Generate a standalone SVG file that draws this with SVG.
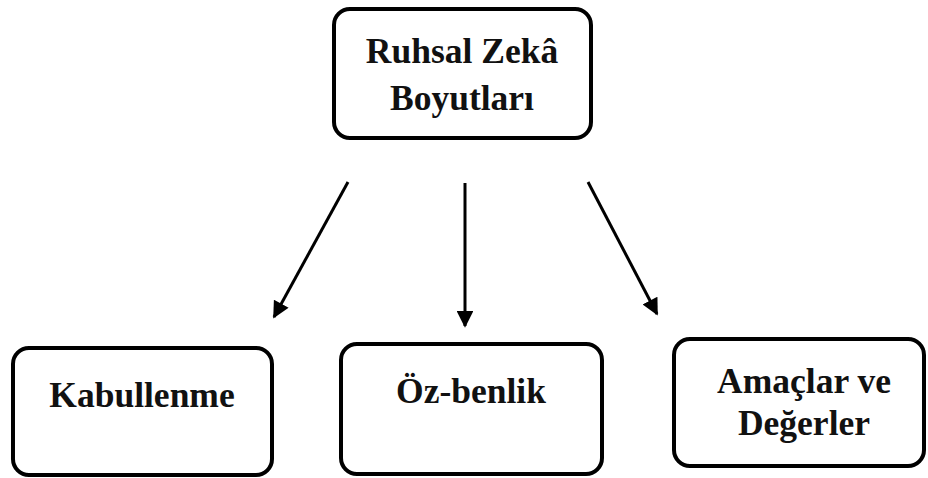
<svg xmlns="http://www.w3.org/2000/svg" width="928" height="478" viewBox="0 0 928 478">
<style>
.box{fill:#fff;stroke:#000;stroke-width:4}
.t{font-family:"Liberation Serif","Times New Roman",serif;font-weight:bold;font-size:35.5px;fill:#111;text-anchor:middle}
.c{stroke:#000;stroke-width:3;fill:none;marker-end:url(#ah)}
</style>
<defs>
<marker id="ah" viewBox="0 0 10 10" refX="9" refY="5" markerWidth="5.8" markerHeight="5.6" markerUnits="strokeWidth" orient="auto">
<path d="M0,0 L10,5 L0,10 z" fill="#000"/>
</marker>
</defs>
<rect width="928" height="478" fill="#fff"/>
<g id="connectors">
<line class="c" x1="348" y1="182" x2="274" y2="317"/>
<line class="c" x1="465" y1="183" x2="465" y2="326"/>
<line class="c" x1="588" y1="182" x2="657" y2="314"/>
</g>
<g id="root">
<rect class="box" x="334" y="9" width="257" height="129" rx="16"/>
<text class="t" x="462" y="63">Ruhsal Zekâ</text>
<text class="t" x="462" y="110">Boyutları</text>
</g>
<g id="kabullenme">
<rect class="box" x="13" y="348" width="259" height="127" rx="16"/>
<text class="t" x="142" y="407">Kabullenme</text>
</g>
<g id="ozbenlik">
<rect class="box" x="341" y="344" width="261" height="130" rx="16"/>
<text class="t" x="471" y="403">Öz-benlik</text>
</g>
<g id="amaclar">
<rect class="box" x="674" y="339" width="250" height="127" rx="16"/>
<text class="t" x="804" y="393">Amaçlar ve</text>
<text class="t" x="804" y="435">Değerler</text>
</g>
</svg>
